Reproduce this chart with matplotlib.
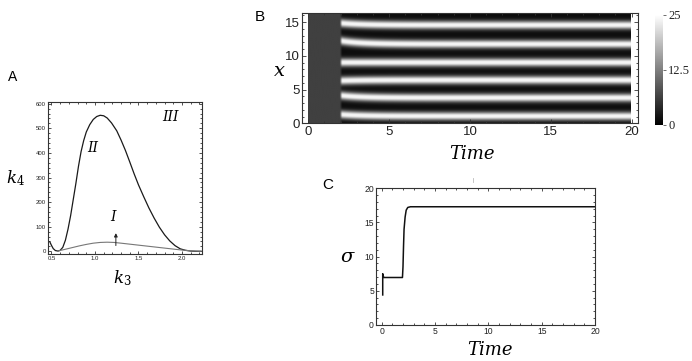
import numpy as np
import matplotlib
matplotlib.use("Agg")
import matplotlib.pyplot as plt
from matplotlib.ticker import MultipleLocator, FixedLocator
from matplotlib.lines import Line2D

plt.rcParams['mathtext.fontset'] = 'dejavuserif'

# ---------------- Panel A data ----------------
k3_upper = [0.48, 0.50, 0.52, 0.545, 0.575, 0.60, 0.63, 0.66, 0.69, 0.72, 0.75, 0.78,
            0.81, 0.84, 0.87, 0.90, 0.94, 0.98, 1.02, 1.06, 1.10, 1.14, 1.19, 1.25,
            1.30, 1.35, 1.40, 1.45, 1.50, 1.56, 1.62, 1.68, 1.74, 1.80, 1.86, 1.92,
            1.98, 2.04, 2.10, 2.16, 2.22]
k4_upper = [39, 24, 11, 3, 1, 4, 16, 45, 90, 145, 210, 275,
            345, 405, 450, 485, 515, 536, 548, 553, 551, 542, 522, 490,
            452, 410, 363, 315, 270, 222, 176, 135, 98, 67, 42, 23,
            10, 4, 1, 0, 0]
k3_lower = [0.575, 0.62, 0.68, 0.75, 0.82, 0.90, 0.98, 1.06, 1.14, 1.22, 1.30, 1.40,
            1.50, 1.60, 1.70, 1.80, 1.90, 2.00, 2.10, 2.22]
k4_lower = [1, 5, 10, 16, 22, 28, 33, 36, 37, 36, 33, 29,
            25, 21, 17, 13, 9, 5, 2, 0]
arrow_k3 = 1.24
arrow_k4 = [12, 85]

# ---------------- Panel B data ----------------
stripe_centers = [1.0, 3.7, 6.3, 8.9, 11.6, 14.4]
stripe_start_offsets = [0.25, 0.35, -0.1, 0.0, 0.5, 0.3]
pattern_onset = 1.96
uniform_level = 6.3
peak_level = 25.0
floor_level = 1.2
time_end = 19.95
x_top = 16.3
cbar_ticks = [0, 12.5, 25]

# ---------------- Panel C data ----------------
t_sigma = [0.10, 0.10, 0.12, 0.20, 1.00, 1.95, 2.00, 2.05, 2.10, 2.20, 2.30, 2.45,
           2.70, 5.0, 10.0, 20.0]
sigma = [4.4, 7.5, 7.3, 6.95, 6.95, 6.95, 8.5, 11.5, 14.0, 15.8, 16.8, 17.2,
         17.3, 17.3, 17.3, 17.3]

W, H = 692, 361
fig = plt.figure(figsize=(W / 100, H / 100), dpi=100)
fig.patch.set_facecolor('white')


def rect(l, r, t, b):
    return [l / W, 1 - b / H, (r - l) / W, (b - t) / H]


def style_ticks(ax, labelsize, major_len, minor_len, family='Liberation Sans', color='#333333'):
    ax.tick_params(which='both', direction='in', top=True, right=True, colors=color,
                   labelcolor='#222222', labelsize=labelsize, width=0.6, pad=1.5,
                   labelfontfamily=family)
    ax.tick_params(which='major', length=major_len)
    ax.tick_params(which='minor', length=minor_len)
    for s in ax.spines.values():
        s.set_color(color)
        s.set_linewidth(0.8)


serif_it = dict(family='DejaVu Serif', style='italic')

# ---------------- Panel A ----------------
axA = fig.add_axes(rect(48, 202, 102, 254))
axA.plot(k3_upper, k4_upper, color='#1a1a1a', lw=0.9)
axA.plot(k3_lower, k4_lower, color='#777777', lw=0.8)
axA.annotate('', xy=(arrow_k3, arrow_k4[1]), xytext=(arrow_k3, arrow_k4[0]),
             arrowprops=dict(arrowstyle='-|>', color='#222222', lw=0.7,
                             mutation_scale=5))
axA.set_xlim(0.46, 2.23)
axA.set_ylim(-11, 607)
axA.xaxis.set_major_locator(FixedLocator([0.5, 1.0, 1.5, 2.0]))
axA.xaxis.set_minor_locator(MultipleLocator(0.1))
axA.yaxis.set_major_locator(MultipleLocator(100))
axA.yaxis.set_minor_locator(MultipleLocator(20))
axA.set_xticklabels(['0.5', '1.0', '1.5', '2.0'])
style_ticks(axA, 4.3, 2.5, 1.2)
axA.text(1.87, 545, 'III', fontsize=10, **serif_it, ha='center', va='center')
axA.text(0.97, 418, 'II', fontsize=10, **serif_it, ha='center', va='center')
axA.text(1.21, 140, 'I', fontsize=10, **serif_it, ha='center', va='center')
fig.text(8 / W, 1 - 77 / H, 'A', fontsize=10, family='Liberation Sans', va='center')
fig.text(15 / W, 1 - 178 / H, r'$k_4$', fontsize=12, ha='center', va='center')
fig.text(122 / W, 1 - 278 / H, r'$k_3$', fontsize=12, ha='center', va='center')

# ---------------- Panel B ----------------
axB = fig.add_axes(rect(302.3, 638, 13.3, 123.5))
tt = np.linspace(0, time_end, 1000)
xx = np.linspace(0, x_top, 500)
T, X = np.meshgrid(tt, xx)
field = np.full(T.shape, floor_level)
for c, off in zip(stripe_centers, stripe_start_offsets):
    ck = c + off * np.exp(-np.clip(T - pattern_onset, 0, None) / 1.3)
    field = field + (peak_level - floor_level) * np.exp(-((X - ck) / 0.6) ** 2)
field = np.clip(field, 0, peak_level * 0.96)
ramp = np.clip((T - pattern_onset) / 0.15, 0, 1)
img = uniform_level * (1 - ramp) + field * ramp
im = axB.imshow(img, extent=[0, time_end, 0, x_top], origin='lower', aspect='auto',
                cmap='gray', vmin=0, vmax=25, interpolation='bilinear')
axB.set_xlim(-0.37, 20.4)
axB.set_ylim(0, x_top)
axB.xaxis.set_major_locator(MultipleLocator(5))
axB.xaxis.set_minor_locator(MultipleLocator(1))
axB.yaxis.set_major_locator(MultipleLocator(5))
axB.yaxis.set_minor_locator(MultipleLocator(1))
style_ticks(axB, 9.5, 3, 1.5)
fig.text(260 / W, 1 - 17 / H, 'B', fontsize=11, family='Liberation Sans', ha='center', va='center')
fig.text(279 / W, 1 - 71 / H, 'x', fontsize=14, **serif_it, ha='center', va='center')
fig.text(472 / W, 1 - 154 / H, 'Time', fontsize=13, **serif_it, ha='center', va='center')

cax = fig.add_axes(rect(655, 663.3, 14.7, 124.7))
cb = fig.colorbar(im, cax=cax, ticks=cbar_ticks)
cb.outline.set_visible(False)
cax.set_yticklabels(['0', '12.5', '25'])
cax.tick_params(length=2.5, width=0.6, colors='#555555', labelcolor='#222222',
                labelsize=9, pad=1, labelfontfamily='Liberation Serif')

# ---------------- Panel C ----------------
axC = fig.add_axes(rect(376, 595, 188.3, 325))
axC.plot(t_sigma, sigma, color='#111111', lw=1.1)
axC.set_xlim(-0.53, 20)
axC.set_ylim(0, 20)
axC.xaxis.set_major_locator(MultipleLocator(5))
axC.xaxis.set_minor_locator(MultipleLocator(1))
axC.yaxis.set_major_locator(MultipleLocator(5))
axC.yaxis.set_minor_locator(MultipleLocator(1))
style_ticks(axC, 6.2, 2.5, 1.2)
fig.text(328 / W, 1 - 185 / H, 'C', fontsize=11, family='Liberation Sans', ha='center', va='center')
fig.text(347 / W, 1 - 257 / H, 'σ', fontsize=14, **serif_it, ha='center', va='center')
fig.text(490 / W, 1 - 350 / H, 'Time', fontsize=13, **serif_it, ha='center', va='center')
fig.add_artist(Line2D([473 / W, 473 / W], [1 - 178 / H, 1 - 182 / H],
                      color='#bbbbbb', lw=0.6))

fig.savefig('out.png', dpi=100, facecolor='white')
